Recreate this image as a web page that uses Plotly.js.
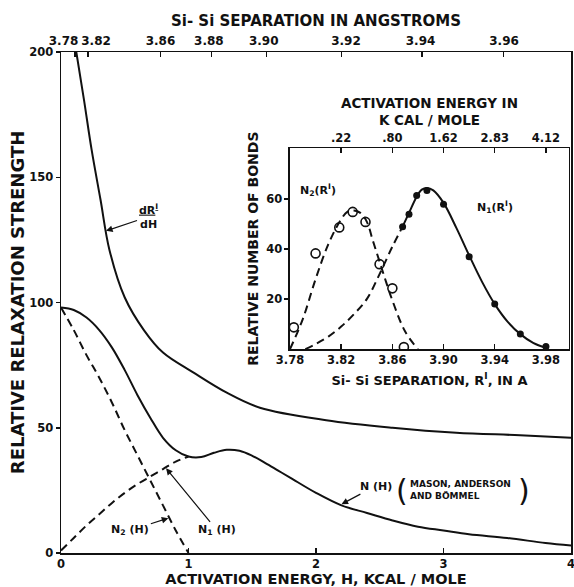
<!DOCTYPE html>
<html>
<head>
<meta charset="utf-8">
<script src="https://cdn.plot.ly/plotly-3.0.1.min.js"></script>
<style>html,body{margin:0;padding:0;background:#fff;}#chart{width:574px;height:587px;}</style>
</head>
<body>
<div id="chart"></div>
<script>
// ---------- main plot data (H in kcal/mole) ----------
const H_dR   = [0.12, 0.18, 0.24, 0.31, 0.38, 0.5, 0.65, 0.8, 1.04, 1.3, 1.56, 2.08, 2.6, 3.1, 3.6, 4.0];
const dRdH   = [200, 181, 161, 141, 121, 102, 89, 80, 72, 64, 58, 53, 50, 48, 47, 46];

const H_N    = [0, 0.1, 0.2, 0.3, 0.4, 0.5, 0.6, 0.7, 0.8, 0.9, 1.0, 1.1, 1.2, 1.3, 1.4, 1.5, 1.6, 1.7, 1.8, 2.0, 2.2, 2.4, 2.6, 2.8, 3.0, 3.2, 3.5, 3.8, 4.0];
const N_H    = [98, 97, 94, 89, 82, 73, 63, 54, 46, 41, 38.5, 38.3, 40, 41.2, 40.8, 38.8, 36, 33, 30, 24, 19, 16, 13, 10.5, 9, 7.5, 6, 4, 3];

const H_N1   = [0, 0.1, 0.2, 0.3, 0.4, 0.5, 0.6, 0.7, 0.8, 0.9, 1.0];
const N1_H   = [1, 6, 11, 15.5, 20, 24, 27.5, 30.5, 33.5, 36.5, 38.5];

const H_N2   = [0, 0.1, 0.2, 0.3, 0.4, 0.5, 0.6, 0.7, 0.8, 0.9, 1.0];
const N2_H   = [98, 89, 79, 70, 60, 49, 39, 29, 19, 9, 0];

// top axis: Si-Si separation labels
const topSepLabels = ['3.78', '3.82', '3.86', '3.88', '3.90', '3.92', '3.94', '3.96'];
const topSepTickH  = [0.11, 0.21, 0.78, 1.18, 1.61, 2.2, 2.83, 3.47];
const topSepLabelH = [0.02, 0.275, 0.78, 1.16, 1.59, 2.235, 2.82, 3.475];

// ---------- inset data (R' in angstroms) ----------
const R_N2pts = [3.783, 3.80, 3.8185, 3.829, 3.839, 3.85, 3.86, 3.869];
const N2pts   = [8.7, 38.3, 48.7, 54.9, 50.9, 34, 24.3, 0.8];
const R_N2c   = [3.780, 3.790, 3.800, 3.810, 3.820, 3.825, 3.830, 3.835, 3.840, 3.845, 3.850, 3.855, 3.860, 3.870, 3.880];
const N2c     = [0, 12, 28, 42, 52, 55, 55.5, 54.5, 51, 43, 35, 27, 19.5, 7, 0];

const R_N1pts = [3.868, 3.873, 3.879, 3.887, 3.90, 3.92, 3.94, 3.96, 3.98];
const N1pts   = [49, 54, 61.5, 63.5, 58, 37, 18, 6, 1];
const R_N1dash = [3.792, 3.80, 3.81, 3.82, 3.83, 3.84, 3.85, 3.86, 3.868];
const N1dash   = [0, 2, 5, 9, 14, 20, 30, 41, 49];
const R_N1sol  = [3.868, 3.873, 3.879, 3.883, 3.887, 3.892, 3.90, 3.91, 3.92, 3.93, 3.94, 3.95, 3.96, 3.97, 3.98];
const N1sol    = [49, 54.5, 61, 63.8, 64.5, 63.5, 58.5, 48.5, 37.5, 27, 18, 11, 6, 2.5, 0.5];

const insetTopTicks  = [3.82, 3.86, 3.90, 3.94, 3.98];
const insetTopLabels = ['.22', '.80', '1.62', '2.83', '4.12'];
const insetBotTicks  = [3.78, 3.82, 3.86, 3.90, 3.94, 3.98];
const insetBotLabels = ['3.78', '3.82', '3.86', '3.90', '3.94', '3.98'];

const INK = '#111';
const FONT = 'DejaVu Sans';
const solid = {color: INK, width: 2, shape: 'spline'};
const dashed = {color: INK, width: 2, dash: '8px,5px', shape: 'spline'};

// The overlaying top axes share the ranges of the axes they overlay, so the curves
// are attached to them to make sure every axis is drawn.
const traces = [
  {x: H_dR, y: dRdH, mode: 'lines', line: solid, xaxis: 'x2', yaxis: 'y'},
  {x: H_N, y: N_H, mode: 'lines', line: solid, xaxis: 'x5', yaxis: 'y'},
  {x: H_N1, y: N1_H, mode: 'lines', line: dashed, xaxis: 'x', yaxis: 'y'},
  {x: H_N2, y: N2_H, mode: 'lines', line: dashed, xaxis: 'x', yaxis: 'y'},
  // inset
  {x: R_N2c, y: N2c, mode: 'lines', line: dashed, xaxis: 'x3', yaxis: 'y3'},
  {x: R_N1dash, y: N1dash, mode: 'lines', line: dashed, xaxis: 'x3', yaxis: 'y3'},
  {x: R_N1sol, y: N1sol, mode: 'lines', line: solid, xaxis: 'x4', yaxis: 'y3'},
  {x: R_N2pts, y: N2pts, mode: 'markers', xaxis: 'x3', yaxis: 'y3',
   marker: {symbol: 'circle-open', size: 9, color: INK, line: {width: 1.6, color: INK}}},
  {x: R_N1pts, y: N1pts, mode: 'markers', xaxis: 'x4', yaxis: 'y3',
   marker: {symbol: 'circle', size: 7, color: INK}}
];

const axBase = {showgrid: false, zeroline: false, showline: true, linecolor: INK, linewidth: 1.5,
  tickcolor: INK, tickwidth: 1.5, ticklabeloverflow: 'allow',
  tickfont: {family: FONT, size: 12, color: INK, weight: 'bold'}, automargin: false};

const layout = {
  width: 574, height: 587,
  margin: {l: 61, r: 3, t: 52, b: 34},
  paper_bgcolor: '#fff', plot_bgcolor: '#fff',
  showlegend: false,
  font: {family: FONT, color: INK, weight: 'bold'},
  xaxis: Object.assign({}, axBase, {
    range: [0, 4], tickmode: 'array', tickvals: [0, 1, 2, 3, 4], ticktext: ['0', '1', '2', '3', '4'],
    ticks: 'inside', ticklen: 5, tickfont: {family: FONT, size: 11.5, color: INK, weight: 'bold'},
    title: {text: 'ACTIVATION ENERGY, H, KCAL / MOLE', font: {family: FONT, size: 14.5, weight: 'bold'}, standoff: 2}
  }),
  yaxis: Object.assign({}, axBase, {
    range: [0, 200], tickmode: 'array', tickvals: [0, 50, 100, 150, 200],
    ticks: 'outside', ticklen: 4, mirror: true, tickfont: {family: FONT, size: 11.5, color: INK, weight: 'bold'},
    title: {text: 'RELATIVE RELAXATION STRENGTH', font: {family: FONT, size: 18, weight: 'bold'}, standoff: 0}
  }),
  xaxis2: Object.assign({}, axBase, {
    overlaying: 'x', side: 'top', anchor: 'y', range: [0, 4],
    tickmode: 'array', tickvals: topSepTickH,
    ticks: 'inside', ticklen: 5, showticklabels: false
  }),
  xaxis5: Object.assign({}, axBase, {
    overlaying: 'x', side: 'top', anchor: 'y', range: [0, 4], showline: false,
    tickmode: 'array', tickvals: topSepLabelH, ticktext: topSepLabels,
    ticks: '', ticklabelstandoff: 4,
    title: {text: 'Si- Si SEPARATION IN ANGSTROMS', font: {family: FONT, size: 15, weight: 'bold'}, standoff: 3}
  }),
  // inset
  xaxis3: Object.assign({}, axBase, {
    domain: [0.449, 0.996], anchor: 'y3', range: [3.78, 3.998],
    tickmode: 'array', tickvals: insetBotTicks, ticktext: insetBotLabels,
    ticks: 'inside', ticklen: 5, tickfont: {family: FONT, size: 11.5, color: INK, weight: 'bold'},
    title: {text: 'Si- Si SEPARATION, R<sup>I</sup>, IN A', font: {family: FONT, size: 13, weight: 'bold'}, standoff: 9}
  }),
  xaxis4: Object.assign({}, axBase, {
    overlaying: 'x3', side: 'top', anchor: 'y3', range: [3.78, 3.998],
    tickmode: 'array', tickvals: insetTopTicks, ticktext: insetTopLabels,
    ticks: 'inside', ticklen: 5, tickfont: {family: FONT, size: 11.5, color: INK, weight: 'bold'},
    title: {text: 'ACTIVATION ENERGY IN<br>K CAL / MOLE', font: {family: FONT, size: 13.5, weight: 'bold'}, standoff: 2}
  }),
  yaxis3: Object.assign({}, axBase, {
    domain: [0.407, 0.808], anchor: 'x3', range: [0, 80.4], mirror: true,
    tickmode: 'array', tickvals: [20, 40, 60], ticktext: ['20', '40', '60'],
    ticks: 'outside', ticklen: 4, tickfont: {family: FONT, size: 11.5, color: INK, weight: 'bold'},
    title: {text: 'RELATIVE NUMBER OF BONDS', font: {family: FONT, size: 14, weight: 'bold'}, standoff: 4}
  }),
  annotations: [
    {x: 0.353, y: 128.6, xref: 'x', yref: 'y', text: '<u>dR<sup>I</sup></u><br>dH',
     showarrow: true, ax: 42, ay: -14, arrowhead: 2, arrowsize: 1.1, arrowwidth: 1.2, arrowcolor: INK,
     font: {family: FONT, size: 11, color: INK, weight: 'bold'}},
    {x: 2.2, y: 19.5, xref: 'x', yref: 'y', text: 'N (H)',
     showarrow: true, ax: 34, ay: -18, arrowhead: 2, arrowsize: 1.1, arrowwidth: 1.2, arrowcolor: INK,
     font: {family: FONT, size: 11, color: INK, weight: 'bold'}},
    {x: 2.675, y: 25.1, xref: 'x', yref: 'y', text: '(', showarrow: false,
     font: {family: FONT, size: 30, color: INK, weight: 'normal'}},
    {x: 3.63, y: 25.1, xref: 'x', yref: 'y', text: ')', showarrow: false,
     font: {family: FONT, size: 30, color: INK, weight: 'normal'}},
    {x: 2.725, y: 25.1, xref: 'x', yref: 'y', text: 'MASON, ANDERSON<br>AND BÖMMEL', showarrow: false,
     xanchor: 'left', align: 'left', font: {family: FONT, size: 9, color: INK, weight: 'bold'}},
    {x: 0.842, y: 13.9, xref: 'x', yref: 'y', text: 'N<sub>2</sub> (H)',
     showarrow: true, ax: -38, ay: 12, arrowhead: 2, arrowsize: 1.1, arrowwidth: 1.2, arrowcolor: INK,
     font: {family: FONT, size: 11, color: INK, weight: 'bold'}},
    {x: 0.824, y: 33.8, xref: 'x', yref: 'y', text: 'N<sub>1</sub> (H)',
     showarrow: true, ax: 51, ay: 62, arrowhead: 2, arrowsize: 1.1, arrowwidth: 1.2, arrowcolor: INK,
     font: {family: FONT, size: 11, color: INK, weight: 'bold'}},
    {x: 3.8018, y: 63.6, xref: 'x3', yref: 'y3', text: 'N<sub>2</sub>(R<sup>I</sup>)', showarrow: false,
     font: {family: FONT, size: 11, color: INK, weight: 'bold'}},
    {x: 3.94, y: 56.8, xref: 'x3', yref: 'y3', text: 'N<sub>1</sub>(R<sup>I</sup>)', showarrow: false,
     font: {family: FONT, size: 11, color: INK, weight: 'bold'}}
  ]
};

Plotly.newPlot('chart', traces, layout, {staticPlot: true, displayModeBar: false});
</script>
</body>
</html>
